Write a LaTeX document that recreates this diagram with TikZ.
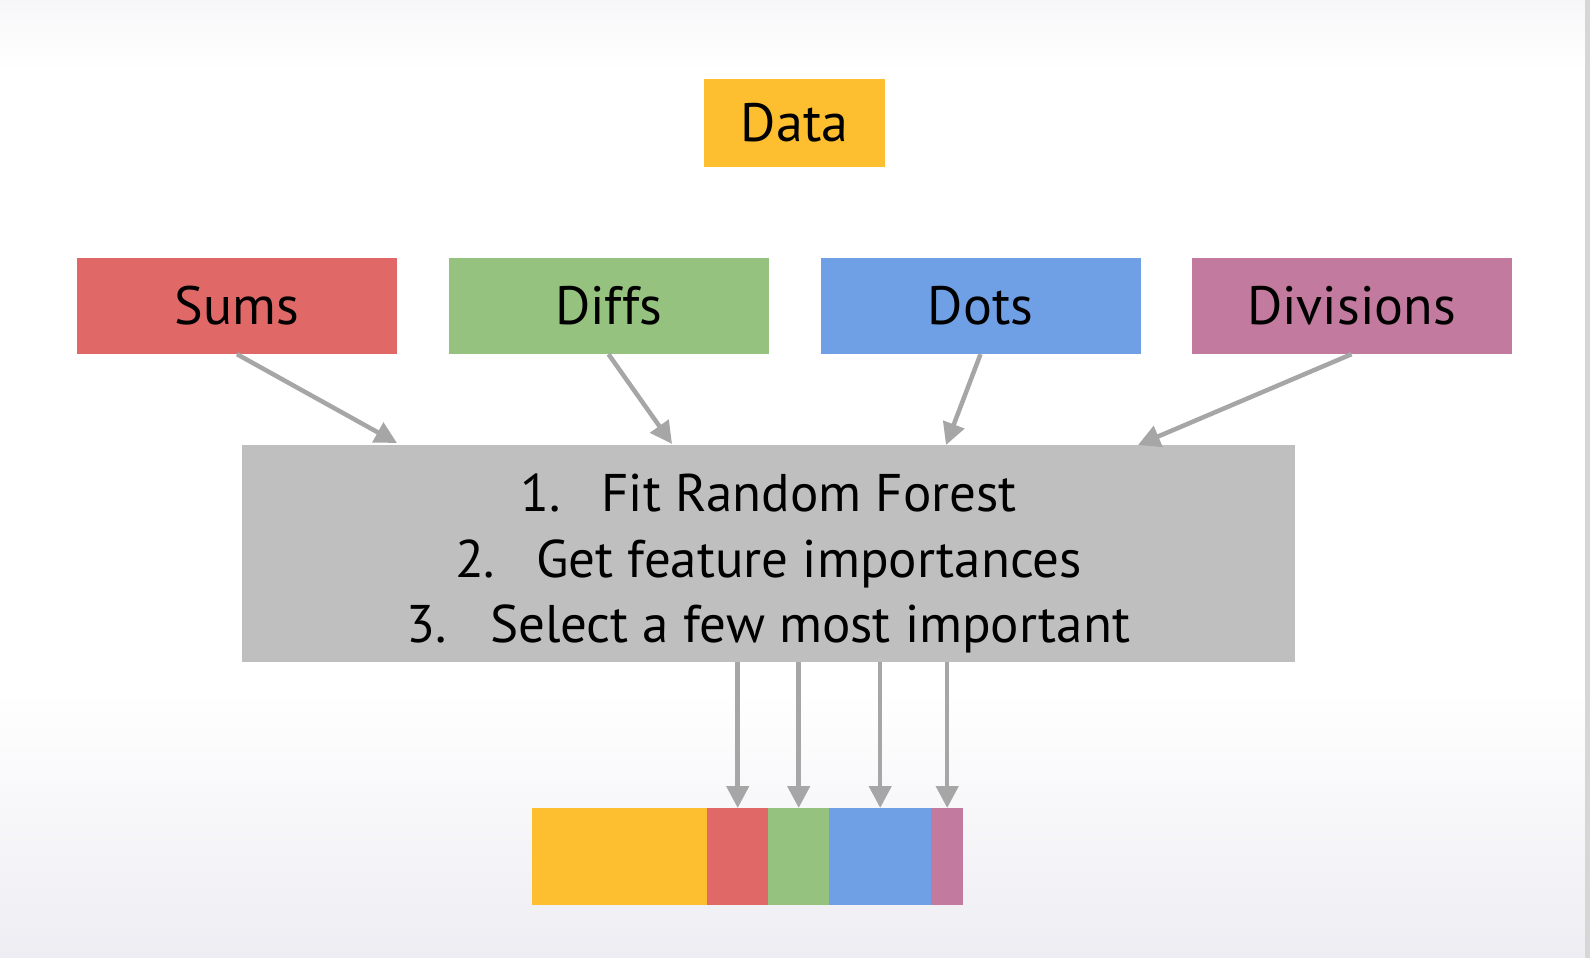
\documentclass[tikz,border=0pt]{standalone}
\usepackage{fontspec}
\setmainfont{PT Sans}
\usetikzlibrary{arrows.meta,calc}
\definecolor{cyel}{HTML}{FDBE2F}
\definecolor{cred}{HTML}{E06967}
\definecolor{cgreen}{HTML}{95C37F}
\definecolor{cblue}{HTML}{6FA0E6}
\definecolor{cpurple}{HTML}{C27A9E}
\definecolor{cgray}{HTML}{BFBFBF}
\definecolor{carrow}{HTML}{A6A6A6}
\definecolor{bgtop}{HTML}{F7F7F9}
\definecolor{bgbot}{HTML}{EEEDF3}
\definecolor{edge}{HTML}{D6D6D6}
\begin{document}
\begin{tikzpicture}[x=1pt,y=-1pt,
  box/.style={rectangle, inner sep=0pt, text=black, font=\fontsize{54}{65.5}\selectfont},
  seg/.style={rectangle, inner sep=0pt, minimum height=97pt, anchor=north west},
  conn/.style={draw=carrow, line width=4.5pt, -{Triangle[width=22pt,length=22pt]}}]
\useasboundingbox (0,0) rectangle (1590,958);
\fill[white] (0,0) rectangle (1590,958);
\shade[top color=bgtop, bottom color=white] (0,0) rectangle (1590,70);
\shade[top color=white, bottom color=bgbot] (0,690) rectangle (1590,958);
\fill[edge] (1585,0) rectangle (1590,958);

\node[box, fill=cyel, minimum width=181pt, minimum height=88pt] (data) at (794.5,123) {Data};
\node[box, fill=cred, minimum width=320pt, minimum height=96pt] (sums) at (237,306) {Sums};
\node[box, fill=cgreen, minimum width=320pt, minimum height=96pt] (diffs) at (608.5,306) {Diffs};
\node[box, fill=cblue, minimum width=320pt, minimum height=96pt] (dots) at (980.5,306) {Dots};
\node[box, fill=cpurple, minimum width=320pt, minimum height=96pt] (divs) at (1351.5,306) {Divisions};

\node[box, fill=cgray, minimum width=1053pt, minimum height=217pt] (rf) at (768.5,553.5) {};
\node[box, align=center, font=\fontsize{53}{65.5}\selectfont] (rftext) at (768.5,563.5)
  {1.\hspace{41pt}Fit Random Forest\\2.\hspace{41pt}Get feature importances\\3.\hspace{43pt}Select a few most important};

\node[seg, fill=cyel, minimum width=175pt] (b1) at (532,808) {};
\node[seg, fill=cred, minimum width=61pt] (b2) at (707,808) {};
\node[seg, fill=cgreen, minimum width=61pt] (b3) at (768,808) {};
\node[seg, fill=cblue, minimum width=102pt] (b4) at (829,808) {};
\node[seg, fill=cpurple, minimum width=32pt] (b5) at (931,808) {};

\coordinate (t1) at (397,443);
\coordinate (t2) at (672,444);
\coordinate (t3) at (946,445);
\coordinate (t4) at (1138,445);

\draw[conn] (sums.south) -- (t1);
\draw[conn] (diffs.south) -- (t2);
\draw[conn] (dots.south) -- (t3);
\draw[conn] (divs.south) -- (t4);

\draw[conn] (rf.south -| b2.north) -- (b2.north);
\draw[conn] (rf.south -| b3.north) -- (b3.north);
\draw[conn] (rf.south -| b4.north) -- (b4.north);
\draw[conn] (rf.south -| b5.north) -- (b5.north);
\end{tikzpicture}
\end{document}
